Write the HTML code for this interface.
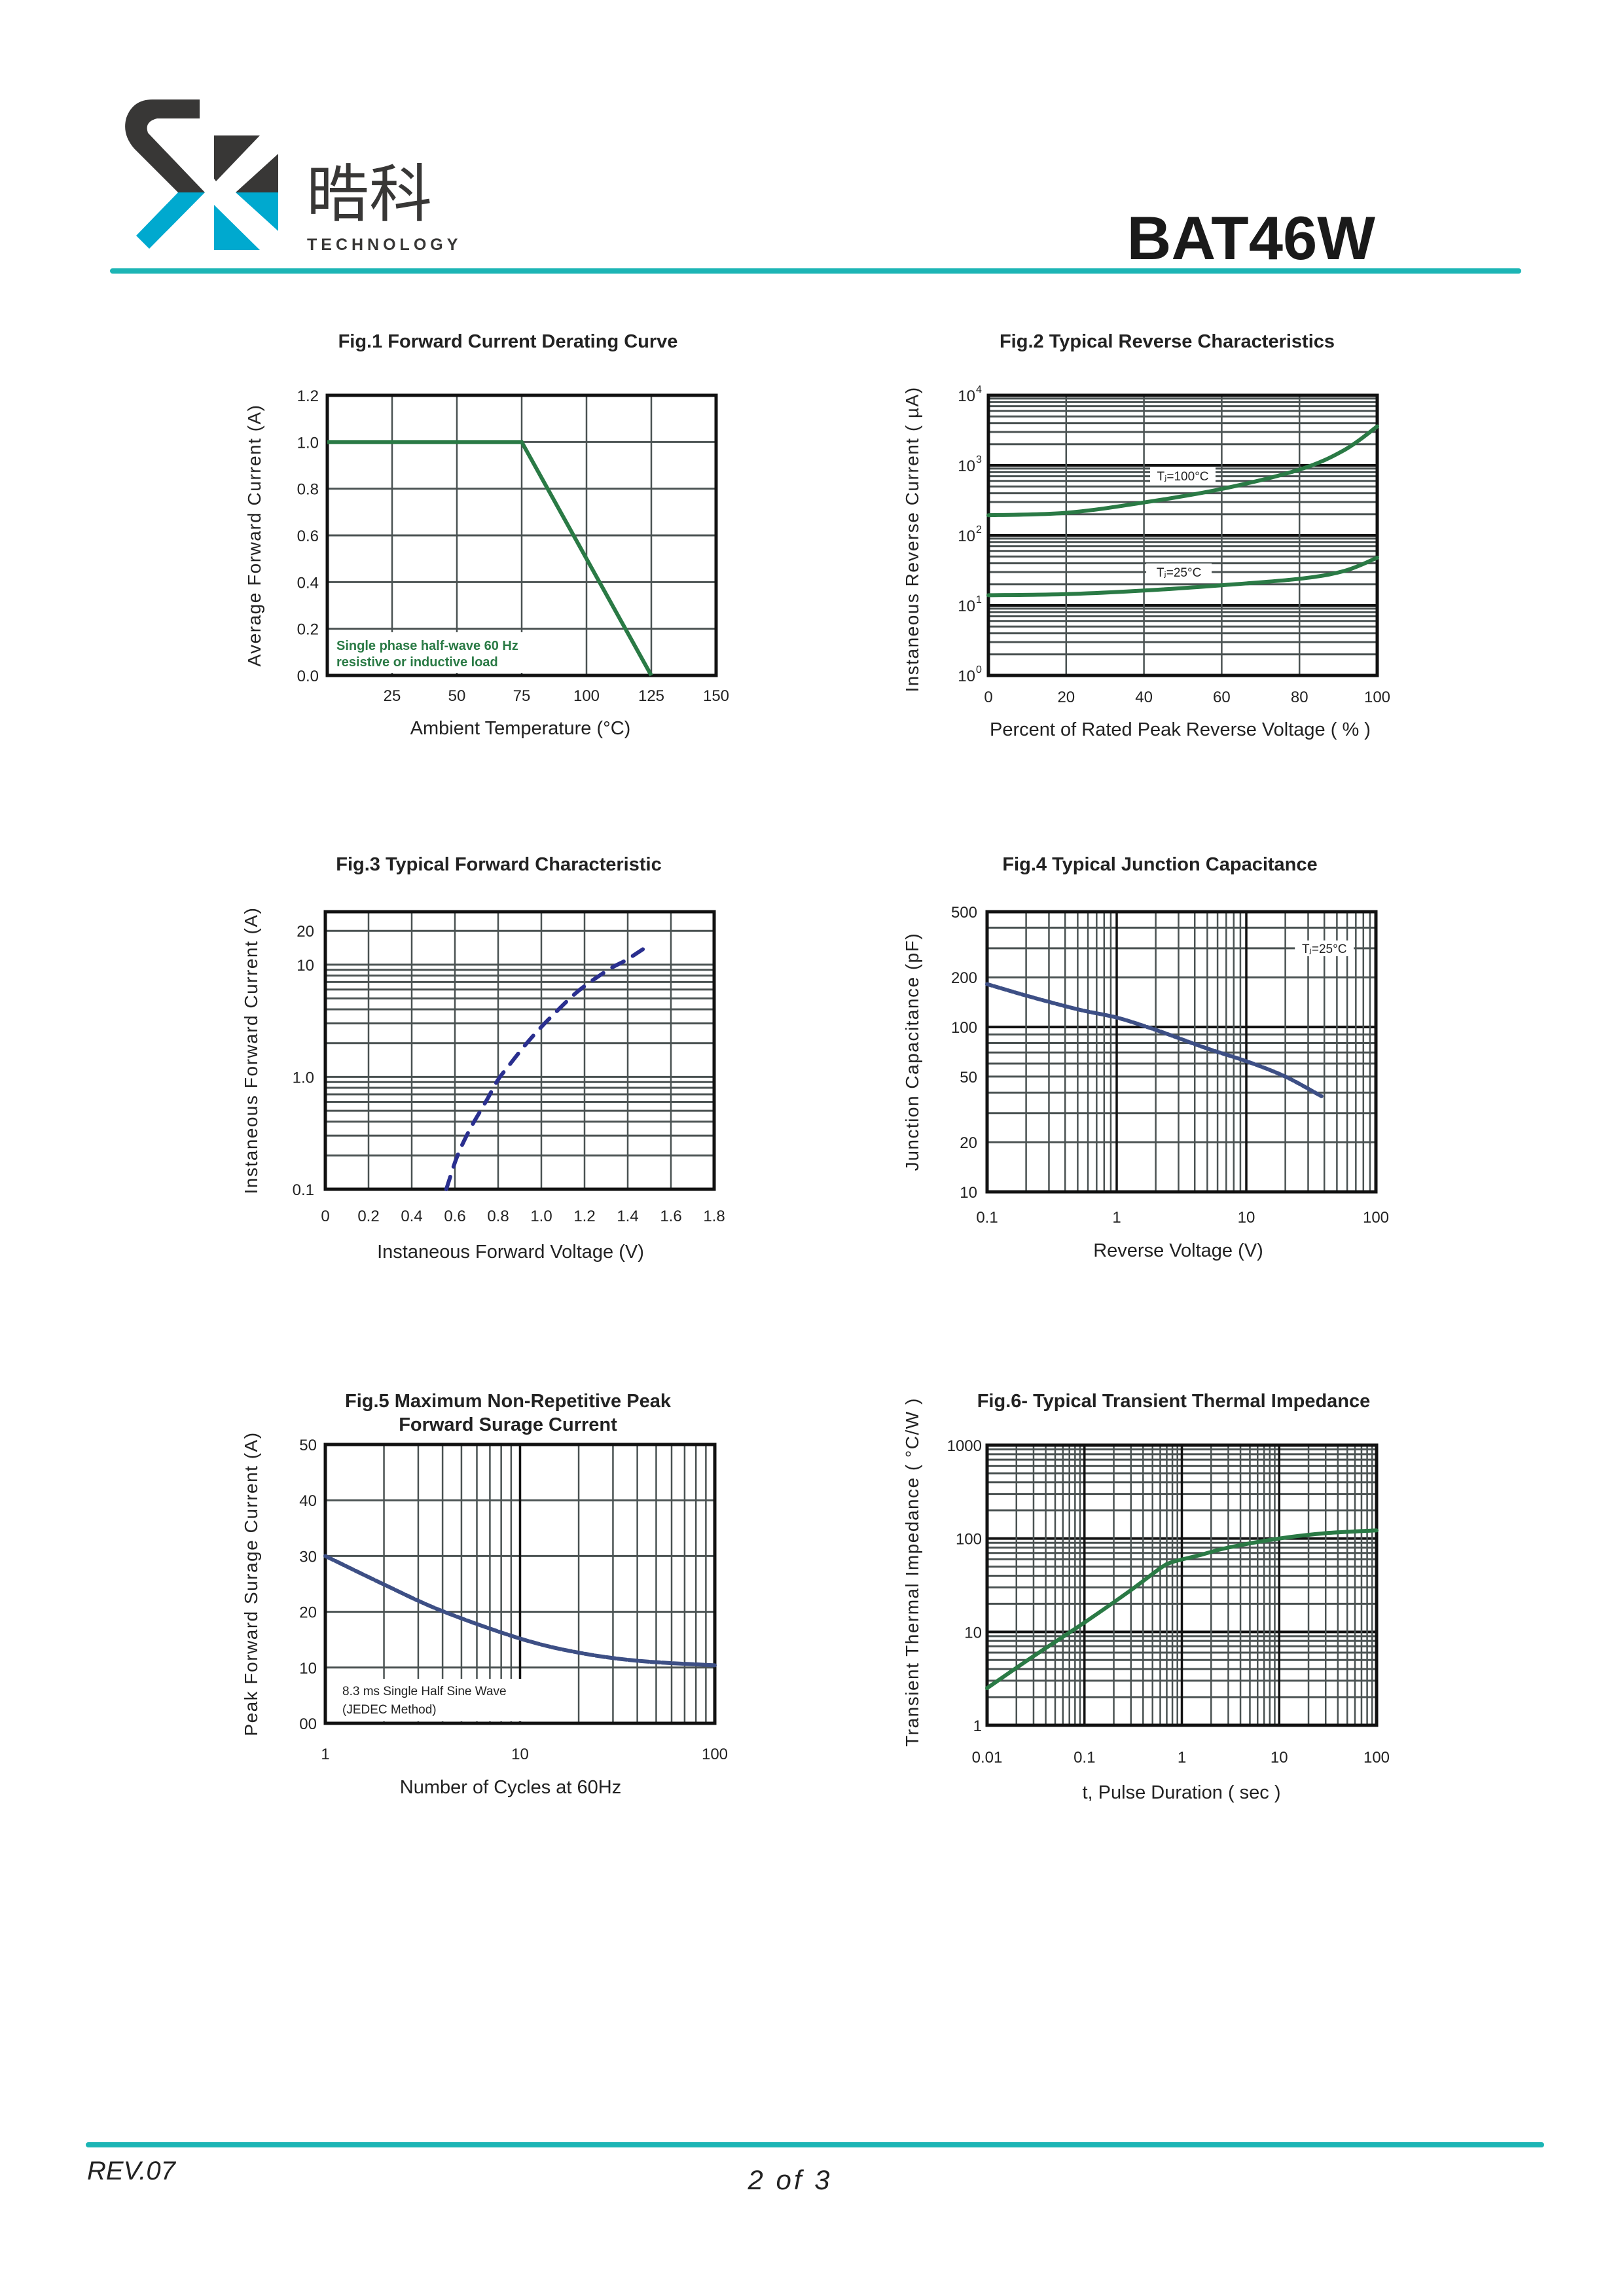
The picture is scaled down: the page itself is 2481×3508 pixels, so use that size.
<!DOCTYPE html>
<html><head><meta charset="utf-8"><style>
html,body{margin:0;padding:0;background:#fff;}
svg{display:block;}
text{font-family:"Liberation Sans",Arial,sans-serif;}
</style></head><body>
<svg id="page" xmlns="http://www.w3.org/2000/svg" width="2481" height="3508" viewBox="0 0 2481 3508">
<rect x="0" y="0" width="2481" height="3508" fill="#fff"/>
<g>
 <path d="M305,152 L305,181 L240,181 Q220,186 226,203 L313,294 L272,294 L205,227 Q186,205 193,180 Q203,152 233,152 Z" fill="#383736"/>
 <polygon points="272,294 313,294 228,380 208,360" fill="#00a9cf"/>
 <polygon points="327,207 397,207 330,277 327,273" fill="#383736"/>
 <polygon points="425,235 425,294 360,294" fill="#383736"/>
 <polygon points="360,294 425,294 425,353" fill="#00a9cf"/>
 <polygon points="327,313 327,382 397,382" fill="#00a9cf"/>
 <text x="468" y="330" font-size="96" fill="#383736" font-family="'Liberation Sans','Noto Sans CJK SC',sans-serif">晧科</text>
 <text x="469" y="382" font-size="25" font-weight="bold" letter-spacing="6" fill="#383736">TECHNOLOGY</text>
</g>
<text x="2101" y="396" text-anchor="end" font-size="94" font-weight="bold" fill="#1a1a1a">BAT46W</text>
<rect x="168" y="410" width="2156" height="8" rx="4" fill="#1cb5b5"/>
<rect x="131" y="3273" width="2228" height="8" rx="4" fill="#1cb5b5"/>
<text x="133" y="3330" font-size="40" font-style="italic" fill="#222">REV.07</text>
<text x="1207" y="3345" text-anchor="middle" font-size="42" font-style="italic" fill="#222" letter-spacing="4">2 of 3</text>
<g id="charts"></g>
</svg>
<script>
// ---- Fig.1 data ----
const f1Temp = [0, 75, 125];
const f1Current = [1.0, 1.0, 0.0];
const f1XTicks = [25, 50, 75, 100, 125, 150];
const f1YTicks = [0.0, 0.2, 0.4, 0.6, 0.8, 1.0, 1.2];
// ---- Fig.2 data ----
const f2Voltage = [0, 20, 40, 60, 80, 91.5, 100];
const f2Current100 = [194, 210, 295, 460, 870, 1650, 3600];
const f2Current25 = [14, 14.5, 16.3, 19.4, 24, 31, 48];
const f2XTicks = [0, 20, 40, 60, 80, 100];
const f2YExp = [0, 1, 2, 3, 4];
// ---- Fig.3 data ----
const f3Voltage = [0.56, 0.601, 0.632, 0.672, 0.713, 0.753, 0.799, 0.855, 0.916, 0.977, 1.05, 1.17, 1.31, 1.39, 1.47];
const f3Current = [0.1, 0.175, 0.245, 0.35, 0.48, 0.65, 0.94, 1.30, 1.83, 2.5, 3.5, 5.8, 9.0, 10.9, 13.7];
const f3XTicks = ["0","0.2","0.4","0.6","0.8","1.0","1.2","1.4","1.6","1.8"];
const f3YTicks = [0.1, 1, 10, 20];
const f3YLabels = ["0.1","1.0","10","20"];
// ---- Fig.4 data ----
const f4Voltage = [0.1, 0.2, 0.5, 1.0, 2.0, 5, 10, 20, 38];
const f4Cap = [182, 155, 128, 114, 96, 74, 62, 50, 38];
const f4XTicks = [0.1, 1, 10, 100];
const f4YTicks = [10, 20, 50, 100, 200, 500];
// ---- Fig.5 data ----
const f5Cycles = [1, 2.0, 3.94, 10, 19.8, 40.5, 100];
const f5Surge = [30, 24.9, 20.2, 15.2, 12.7, 11.2, 10.4];
const f5XTicks = [1, 10, 100];
const f5YTicks = [0, 10, 20, 30, 40, 50];
const f5YLabels = ["00","10","20","30","40","50"];
// ---- Fig.6 data ----
const f6Time = [0.01, 0.03, 0.1, 0.3, 0.6, 0.8, 1.5, 3, 10, 30, 100];
const f6Imp = [2.5, 5.5, 12.6, 28, 48, 56, 66, 80, 100, 114, 122];
const f6XTicks = [0.01, 0.1, 1, 10, 100];
const f6YTicks = [1, 10, 100, 1000];

const NS = "http://www.w3.org/2000/svg";
const root = document.getElementById("charts");
function mk(tag, attrs, parent) {
  const e = document.createElementNS(NS, tag);
  for (const k in attrs) e.setAttribute(k, attrs[k]);
  (parent || root).appendChild(e);
  return e;
}
function linS(d0, d1, r0, r1) { return v => r0 + (v - d0) / (d1 - d0) * (r1 - r0); }
function logS(d0, d1, r0, r1) { const a = Math.log10(d0), b = Math.log10(d1); return v => r0 + (Math.log10(v) - a) / (b - a) * (r1 - r0); }
function logLines(d0, d1) { const out = []; for (let e = Math.floor(Math.log10(d0)); e <= Math.ceil(Math.log10(d1)); e++) { for (let k = 1; k <= 9; k++) { const v = k * Math.pow(10, e); if (v >= d0 * 0.999 && v <= d1 * 1.001) out.push({ v: v, major: k === 1 }); } } return out; }
function smoothPath(pts) {
  let d = "M" + pts[0][0].toFixed(1) + "," + pts[0][1].toFixed(1);
  for (let i = 0; i < pts.length - 1; i++) {
    const p0 = pts[i - 1] || pts[i], p1 = pts[i], p2 = pts[i + 1], p3 = pts[i + 2] || p2;
    const c1 = [p1[0] + (p2[0] - p0[0]) / 6, p1[1] + (p2[1] - p0[1]) / 6];
    const c2 = [p2[0] - (p3[0] - p1[0]) / 6, p2[1] - (p3[1] - p1[1]) / 6];
    d += " C" + c1[0].toFixed(1) + "," + c1[1].toFixed(1) + " " + c2[0].toFixed(1) + "," + c2[1].toFixed(1) + " " + p2[0].toFixed(1) + "," + p2[1].toFixed(1);
  }
  return d;
}
function frame(g, P) {
  const r = mk("rect", { x: P.x, y: P.y, width: P.w, height: P.h, fill: "none", stroke: "#111", "stroke-width": 5 }, g);
  
  
}
function hline(g, P, y, major, name) {
  const l = mk("line", { x1: P.x, x2: P.x + P.w, y1: y, y2: y, stroke: major ? "#111" : "#4a5252", "stroke-width": major ? 4 : 3 }, g);
  
  
}
function vline(g, P, x, major, name, y2) {
  const l = mk("line", { x1: x, x2: x, y1: P.y, y2: y2 === undefined ? P.y + P.h : y2, stroke: major ? "#111" : "#4a5252", "stroke-width": major ? 3.5 : 2.5 }, g);
  
  
}
function label(g, x, y, s, size, anchor, name, extra) {
  const t = mk("text", Object.assign({ x: x, y: y, "font-size": size, "text-anchor": anchor, fill: "#222" }, extra || {}), g);
  t.textContent = s;
  
  
  return t;
}
function yTitle(g, cx, cy, s) {
  return label(g, cx, cy, s, 28, "middle", "y-axis-title", { transform: "rotate(-90 " + cx + " " + cy + ")", "letter-spacing": "1.5" });
}
function curve(g, pts, color, width, dash, name) {
  const p = mk("path", { d: smoothPath(pts), fill: "none", stroke: color, "stroke-width": width, "stroke-linecap": "round" }, g);
  if (dash) p.setAttribute("stroke-dasharray", dash);
  
  
}
function group(name) {
  const g = mk("g", {});
  
  
  return g;
}

// ===== Fig 1 =====
(function () {
  const g = group("fig1-derating-chart");
  const P = { x: 500, y: 604, w: 594, h: 428 };
  const X = linS(0, 150, P.x, P.x + P.w), Y = linS(0, 1.2, P.y + P.h, P.y);
  label(g, 776, 531, "Fig.1  Forward Current Derating Curve", 29, "middle", "chart-title", { "font-weight": "bold" });
  f1XTicks.forEach(v => { vline(g, P, X(v), false, "x-gridline"); label(g, X(v), 1071, String(v), 24, "middle", "x-tick-label"); });
  f1YTicks.forEach(v => { hline(g, P, Y(v), false, "y-gridline"); label(g, 487, Y(v) + 9, v.toFixed(1), 24, "end", "y-tick-label"); });
  const bg = mk("rect", { x: 508, y: 966, width: 330, height: 62, fill: "#fff" }, g);
  
  
  frame(g, P);
  const pts = f1Temp.map((t, i) => [X(t), Y(f1Current[i])]);
  const pl = mk("polyline", { points: pts.map(p => p.join(",")).join(" "), fill: "none", stroke: "#2a7a45", "stroke-width": 6 }, g);
  
  
  label(g, 514, 993, "Single phase half-wave 60 Hz", 20, "start", "annotation-line-1", { fill: "#2a7a45", "font-weight": "bold" });
  label(g, 514, 1018, "resistive or inductive load", 20, "start", "annotation-line-2", { fill: "#2a7a45", "font-weight": "bold" });
  yTitle(g, 398, P.y + P.h / 2, "Average Forward Current (A)");
  label(g, 795, 1122, "Ambient  Temperature (°C)", 29, "middle", "x-axis-title");
})();

// ===== Fig 2 =====
(function () {
  const g = group("fig2-reverse-characteristics-chart");
  const P = { x: 1510, y: 604, w: 594, h: 428 };
  const X = linS(0, 100, P.x, P.x + P.w), Y = logS(1, 10000, P.y + P.h, P.y);
  label(g, 1783, 531, "Fig.2  Typical Reverse Characteristics", 29, "middle", "chart-title", { "font-weight": "bold" });
  logLines(1, 10000).forEach(o => hline(g, P, Y(o.v), o.major, "y-gridline"));
  f2XTicks.forEach(v => { vline(g, P, X(v), false, "x-gridline"); label(g, X(v), 1073, String(v), 24, "middle", "x-tick-label"); });
  f2YExp.forEach(e => {
    label(g, 1490, Y(Math.pow(10, e)) + 9, "10", 24, "end", "y-tick-label");
    label(g, 1491, Y(Math.pow(10, e)) - 4, String(e), 16, "start", "y-tick-exponent");
  });
  frame(g, P);
  curve(g, f2Voltage.map((v, i) => [X(v), Y(f2Current100[i])]), "#2a7a45", 6, null, "curve-tj-100c");
  curve(g, f2Voltage.map((v, i) => [X(v), Y(f2Current25[i])]), "#2a7a45", 6, null, "curve-tj-25c");
  [[X(50), Y(710), "TJ=100°C", "label-tj-100c"], [X(49), Y(30), "TJ=25°C", "label-tj-25c"]].forEach(a => {
    const r = mk("rect", { x: a[0] - 50, y: a[1] - 13, width: 100, height: 26, fill: "#fff" }, g);
    
    
    label(g, a[0], a[1] + 7, a[2].replace("TJ", "T\u2c7c"), 19, "middle", a[3]);
  });
  yTitle(g, 1403, P.y + P.h / 2 + 6, "Instaneous Reverse Current ( µA)");
  label(g, 1803, 1124, "Percent of Rated Peak Reverse Voltage ( % )", 29, "middle", "x-axis-title");
})();

// ===== Fig 3 =====
(function () {
  const g = group("fig3-forward-characteristic-chart");
  const P = { x: 497, y: 1393, w: 594, h: 424 };
  const X = linS(0, 1.8, P.x, P.x + P.w), Y = logS(0.1, 29.6, P.y + P.h, P.y);
  label(g, 762, 1330, "Fig.3  Typical Forward Characteristic", 29, "middle", "chart-title", { "font-weight": "bold" });
  logLines(0.1, 29.6).forEach(o => hline(g, P, Y(o.v), false, "y-gridline"));
  f3XTicks.forEach((s, i) => { vline(g, P, X(i * 0.2), false, "x-gridline"); label(g, X(i * 0.2), 1866, s, 24, "middle", "x-tick-label"); });
  f3YTicks.forEach((v, i) => label(g, 480, Y(v) + 9, f3YLabels[i], 24, "end", "y-tick-label"));
  frame(g, P);
  curve(g, f3Voltage.map((v, i) => [X(v), Y(f3Current[i])]), "#2a2f8f", 6, "20 16", "forward-curve");
  yTitle(g, 393, P.y + P.h / 2, "Instaneous Forward Current  (A)");
  label(g, 780, 1922, "Instaneous Forward Voltage (V)", 29, "middle", "x-axis-title");
})();

// ===== Fig 4 =====
(function () {
  const g = group("fig4-junction-capacitance-chart");
  const P = { x: 1508, y: 1393, w: 594, h: 428 };
  const X = logS(0.1, 100, P.x, P.x + P.w), Y = logS(10, 500, P.y + P.h, P.y);
  label(g, 1772, 1330, "Fig.4  Typical Junction Capacitance", 29, "middle", "chart-title", { "font-weight": "bold" });
  logLines(10, 500).forEach(o => hline(g, P, Y(o.v), o.v === 100, "y-gridline"));
  logLines(0.1, 100).forEach(o => vline(g, P, X(o.v), o.major, "x-gridline"));
  f4XTicks.forEach(v => label(g, X(v), 1868, String(v), 24, "middle", "x-tick-label"));
  f4YTicks.forEach(v => label(g, 1493, Y(v) + 9, String(v), 24, "end", "y-tick-label"));
  frame(g, P);
  const r = mk("rect", { x: X(40) - 45, y: Y(300) - 12, width: 90, height: 24, fill: "#fff" }, g);
  
  
  label(g, X(40), Y(300) + 7, "T\u2c7c=25°C", 19, "middle", "label-tj-25c");
  curve(g, f4Voltage.map((v, i) => [X(v), Y(f4Cap[i])]), "#3d4f85", 6, "8 3", "capacitance-curve");
  yTitle(g, 1403, P.y + P.h / 2, "Junction Capacitance (pF)");
  label(g, 1800, 1920, "Reverse  Voltage (V)", 29, "middle", "x-axis-title");
})();

// ===== Fig 5 =====
(function () {
  const g = group("fig5-surge-current-chart");
  const P = { x: 497, y: 2207, w: 595, h: 426 };
  const X = logS(1, 100, P.x, P.x + P.w), Y = linS(0, 50, P.y + P.h, P.y);
  label(g, 776, 2150, "Fig.5  Maximum Non-Repetitive Peak", 29, "middle", "chart-title-line-1", { "font-weight": "bold" });
  label(g, 776, 2186, "Forward Surage Current", 29, "middle", "chart-title-line-2", { "font-weight": "bold" });
  f5YTicks.forEach((v, i) => { hline(g, P, Y(v), false, "y-gridline"); label(g, 484, Y(v) + 9, f5YLabels[i], 24, "end", "y-tick-label"); });
  logLines(1, 100).forEach(o => vline(g, P, X(o.v), o.v === 10, "x-gridline"));
  const bg = mk("rect", { x: P.x + 3, y: 2565, width: X(10) - P.x + 2, height: P.y + P.h - 2565 - 3, fill: "#fff" }, g);
  
  
  f5XTicks.forEach(v => label(g, X(v), 2688, String(v), 24, "middle", "x-tick-label"));
  frame(g, P);
  curve(g, f5Cycles.map((v, i) => [X(v), Y(f5Surge[i])]), "#3d4f85", 6, "14 3", "surge-curve");
  label(g, 523, 2590, "8.3 ms Single Half Sine Wave", 19, "start", "annotation-line-1");
  label(g, 523, 2618, "(JEDEC Method)", 19, "start", "annotation-line-2");
  yTitle(g, 393, P.y + P.h / 2, "Peak Forward Surage Current (A)");
  label(g, 780, 2740, "Number of Cycles at 60Hz", 29, "middle", "x-axis-title");
})();

// ===== Fig 6 =====
(function () {
  const g = group("fig6-thermal-impedance-chart");
  const P = { x: 1508, y: 2208, w: 595, h: 428 };
  const X = logS(0.01, 100, P.x, P.x + P.w), Y = logS(1, 1000, P.y + P.h, P.y);
  label(g, 1793, 2150, "Fig.6- Typical Transient Thermal Impedance", 29, "middle", "chart-title", { "font-weight": "bold" });
  logLines(1, 1000).forEach(o => hline(g, P, Y(o.v), o.major, "y-gridline"));
  logLines(0.01, 100).forEach(o => vline(g, P, X(o.v), o.major, "x-gridline"));
  f6XTicks.forEach(v => label(g, X(v), 2693, String(v), 24, "middle", "x-tick-label"));
  f6YTicks.forEach(v => label(g, 1500, Y(v) + 9, String(v), 24, "end", "y-tick-label"));
  frame(g, P);
  curve(g, f6Time.map((v, i) => [X(v), Y(f6Imp[i])]), "#2a7a45", 6, null, "impedance-curve");
  yTitle(g, 1403, P.y + P.h / 2 - 20, "Transient Thermal Impedance ( °C/W )");
  label(g, 1805, 2748, "t, Pulse Duration ( sec )", 29, "middle", "x-axis-title");
})();
</script>
</body></html>
